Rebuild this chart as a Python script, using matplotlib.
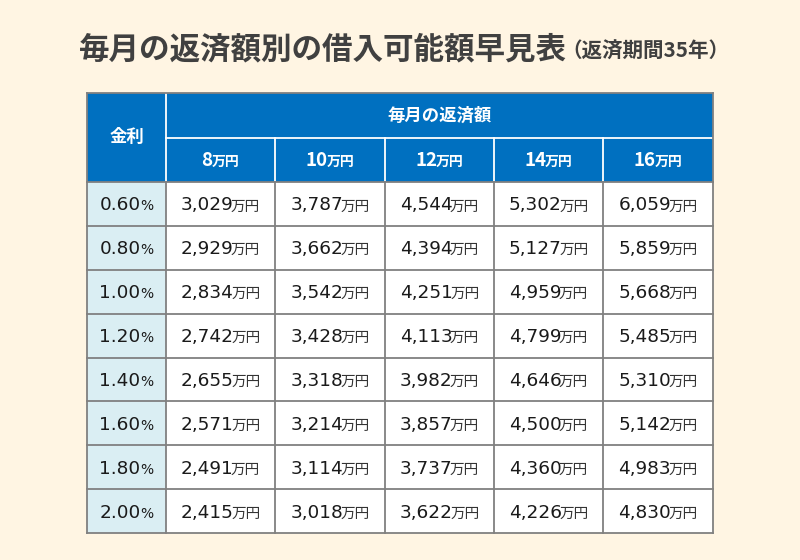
import matplotlib
matplotlib.use("Agg")
import matplotlib.pyplot as plt
from matplotlib.patches import Rectangle

# ---- data ----
title_main = "毎月の返済額別の借入可能額早見表"
title_sub = "（返済期間35年）"
corner_label = "金利"
group_label = "毎月の返済額"
payments = ["8", "10", "12", "14", "16"]          # 万円 per month
rates = ["0.60", "0.80", "1.00", "1.20", "1.40", "1.60", "1.80", "2.00"]  # %
amounts = [
    ["3,029", "3,787", "4,544", "5,302", "6,059"],
    ["2,929", "3,662", "4,394", "5,127", "5,859"],
    ["2,834", "3,542", "4,251", "4,959", "5,668"],
    ["2,742", "3,428", "4,113", "4,799", "5,485"],
    ["2,655", "3,318", "3,982", "4,646", "5,310"],
    ["2,571", "3,214", "3,857", "4,500", "5,142"],
    ["2,491", "3,114", "3,737", "4,360", "4,983"],
    ["2,415", "3,018", "3,622", "4,226", "4,830"],
]
unit = "万円"

# ---- style ----
BG = "#FFF5E3"
BLUE = "#0070C0"
LIGHT = "#DAEEF3"
GRID = "#808080"
TXT = "#1a1a1a"
TITLE = "#404040"
JP = ["Noto Sans CJK JP", "DejaVu Sans"]
NUM = ["DejaVu Sans", "Noto Sans CJK JP"]

fig = plt.figure(figsize=(8, 5.6), dpi=100, facecolor=BG)
ax = fig.add_axes([0, 0, 1, 1])
ax.set_xlim(0, 800)
ax.set_ylim(560, 0)
ax.axis("off")
ax.set_facecolor(BG)

# layout (pixel units)
x_edges = [87, 166, 275, 385, 494, 603, 713]
y_top = 93
y_h1 = 138
y_h2 = 182
row_h = (533 - y_h2) / len(rates)
y_bottom = y_h2 + row_h * len(rates)

pairs = []

def pair(xc, yb, s1, s2, f1, f2, gap=0.0):
    t1 = ax.text(0, yb, s1, ha="left", va="baseline", **f1)
    t2 = ax.text(0, yb, s2, ha="left", va="baseline", **f2)
    pairs.append((xc, t1, t2, gap))

# header background
ax.add_patch(Rectangle((x_edges[0], y_top), x_edges[-1] - x_edges[0], y_h2 - y_top,
                       facecolor=BLUE, edgecolor="none", zorder=1))
# first column light blue
ax.add_patch(Rectangle((x_edges[0], y_h2), x_edges[1] - x_edges[0], y_bottom - y_h2,
                       facecolor=LIGHT, edgecolor="none", zorder=1))
# data area white
ax.add_patch(Rectangle((x_edges[1], y_h2), x_edges[-1] - x_edges[1], y_bottom - y_h2,
                       facecolor="white", edgecolor="none", zorder=1))

# white header lines
ax.plot([x_edges[1], x_edges[1]], [y_top, y_h2], color="white", lw=1.3, zorder=2)
ax.plot([x_edges[1], x_edges[-1]], [y_h1, y_h1], color="white", lw=1.3, zorder=2)
for xe in x_edges[2:-1]:
    ax.plot([xe, xe], [y_h1, y_h2], color="white", lw=1.3, zorder=2)

# gray grid in body
for i in range(len(rates) + 1):
    y = y_h2 + i * row_h
    ax.plot([x_edges[0], x_edges[-1]], [y, y], color=GRID, lw=1.3, zorder=3)
for xe in x_edges:
    ax.plot([xe, xe], [y_h2, y_bottom], color=GRID, lw=1.3, zorder=3)
# outer border of header
ax.plot([x_edges[0], x_edges[-1]], [y_top, y_top], color=GRID, lw=1.3, zorder=3)
ax.plot([x_edges[0], x_edges[0]], [y_top, y_h2], color=GRID, lw=1.3, zorder=3)
ax.plot([x_edges[-1], x_edges[-1]], [y_top, y_h2], color=GRID, lw=1.3, zorder=3)

# header texts
ax.text((x_edges[0] + x_edges[1]) / 2, (y_top + y_h2) / 2 - 1, corner_label,
        ha="center", va="center", color="white", fontsize=12.5, fontweight="bold",
        family=JP, zorder=4)
ax.text((x_edges[1] + x_edges[-1]) / 2, (y_top + y_h1) / 2, group_label,
        ha="center", va="center", color="white", fontsize=12.5, fontweight="bold",
        family=JP, zorder=4)
for j, p in enumerate(payments):
    xc = (x_edges[j + 1] + x_edges[j + 2]) / 2
    pair(xc, (y_h1 + y_h2) / 2 + 6, p, unit,
         dict(fontsize=13.5, fontweight="bold", family=JP, color="white", zorder=4),
         dict(fontsize=10, fontweight="bold", family=JP, color="white", zorder=4),
         gap=-1)

# body texts
for i, r in enumerate(rates):
    yb = y_h2 + (i + 0.5) * row_h + 6.5
    pair((x_edges[0] + x_edges[1]) / 2, yb, r, "%",
         dict(fontsize=13.3, family=NUM, color=TXT, zorder=4),
         dict(fontsize=10, family=NUM, color=TXT, zorder=4), gap=0)
    for j, v in enumerate(amounts[i]):
        xc = (x_edges[j + 1] + x_edges[j + 2]) / 2
        pair(xc, yb, v, unit,
             dict(fontsize=13.3, family=NUM, color=TXT, zorder=4),
             dict(fontsize=10.5, family=JP, color="#333333", zorder=4), gap=-2.5)

# title
pair(404, 58, title_main, title_sub,
     dict(fontsize=22, fontweight="bold", family=JP, color=TITLE, zorder=4),
     dict(fontsize=14.8, fontweight="bold", family=JP, color=TITLE, zorder=4),
     gap=-6)

# center the two-part texts
fig.canvas.draw()
renderer = fig.canvas.get_renderer()
for xc, t1, t2, gap in pairs:
    w1 = t1.get_window_extent(renderer).width
    w2 = t2.get_window_extent(renderer).width
    x0 = xc - (w1 + w2 + gap) / 2
    t1.set_x(x0)
    t2.set_x(x0 + w1 + gap)

fig.savefig("out.png", dpi=100, facecolor=BG)
